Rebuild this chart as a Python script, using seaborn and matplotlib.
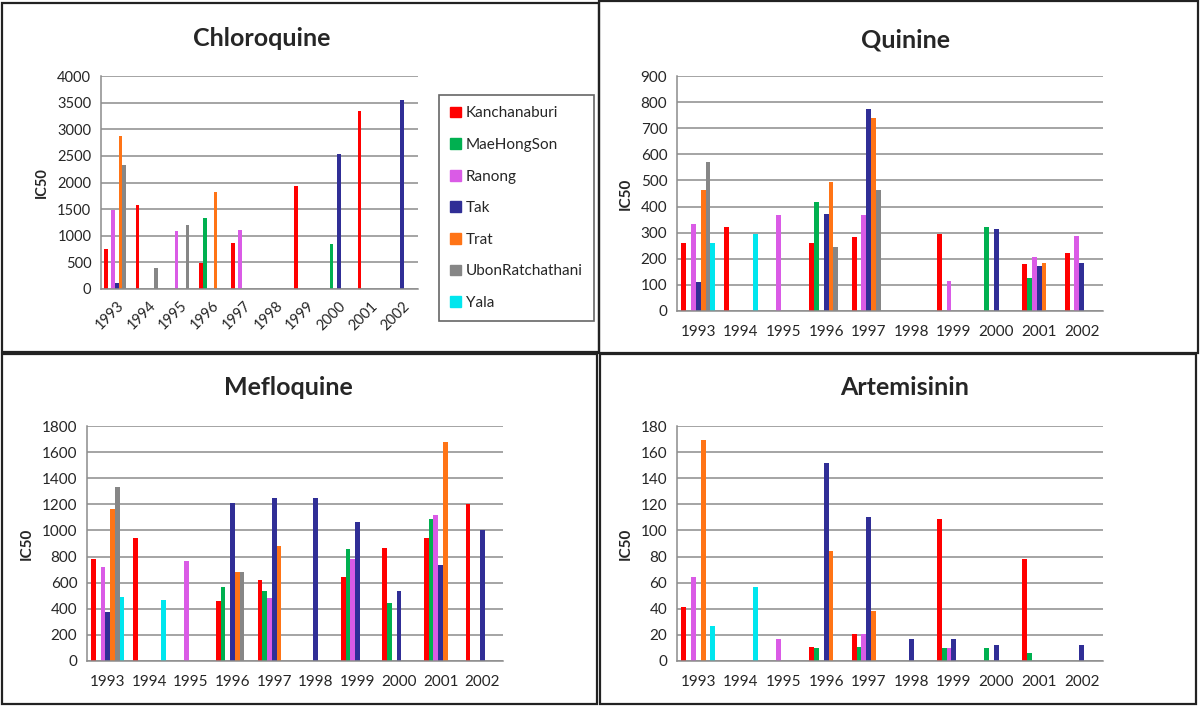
import matplotlib
matplotlib.use("Agg")
import matplotlib.pyplot as plt
import matplotlib.patches as mpatches
import numpy as np
import pandas as pd
import seaborn as sns

years = ['1993', '1994', '1995', '1996', '1997', '1998', '1999', '2000', '2001', '2002']
sites = ['Kanchanaburi', 'MaeHongSon', 'Ranong', 'Tak', 'Trat', 'UbonRatchathani', 'Yala']
colors = ['#FF0000', '#00B050', '#DA5BE6', '#302E96', '#FF7416', '#868686', '#00E6EE']

N = None
# values per site, one per year (None = no bar)
chloroquine = {
    'Kanchanaburi':    [750, 1570, N, 490, 870, N, 1930, N, 3350, N],
    'MaeHongSon':      [N, N, N, 1340, N, N, N, 850, N, N],
    'Ranong':          [1480, N, 1080, N, 1110, N, N, N, N, N],
    'Tak':             [120, N, N, N, N, N, N, 2530, N, 3540],
    'Trat':            [2880, N, N, 1820, N, N, N, N, N, N],
    'UbonRatchathani': [2330, 390, 1210, N, N, N, N, N, N, N],
    'Yala':            [N, N, N, N, N, N, N, N, N, N],
}
quinine = {
    'Kanchanaburi':    [262, 320, N, 262, 285, N, 294, N, 180, 223],
    'MaeHongSon':      [N, N, N, 417, N, N, N, 320, 127, N],
    'Ranong':          [333, N, 367, N, 368, N, 115, N, 208, 288],
    'Tak':             [110, N, N, 372, 773, N, N, 315, 172, 185],
    'Trat':            [465, N, N, 493, 740, N, N, N, 185, N],
    'UbonRatchathani': [572, N, N, 245, 465, N, N, N, N, N],
    'Yala':            [260, 293, N, N, N, N, N, N, N, N],
}
mefloquine = {
    'Kanchanaburi':    [780, 945, N, 460, 620, N, 645, 865, 940, 1200],
    'MaeHongSon':      [N, N, N, 565, 535, N, 855, 445, 1085, N],
    'Ranong':          [720, N, 765, N, 480, N, 780, N, 1115, N],
    'Tak':             [375, N, N, 1210, 1250, 1250, 1065, 540, 735, 1005],
    'Trat':            [1165, N, N, 680, 880, N, N, N, 1680, N],
    'UbonRatchathani': [1335, N, N, 680, N, N, N, N, N, N],
    'Yala':            [490, 465, N, N, N, N, N, N, N, N],
}
artemisinin = {
    'Kanchanaburi':    [41, N, N, 11, 21, N, 109, N, 78, N],
    'MaeHongSon':      [N, N, N, 10, 10.5, N, 10, 10, 6.5, N],
    'Ranong':          [64, N, 17, N, 21, N, 10, N, N, N],
    'Tak':             [N, N, N, 152, 110, 17, 16.5, 12, N, 12],
    'Trat':            [169, N, N, 84, 38, N, N, N, N, N],
    'UbonRatchathani': [N, N, N, N, N, N, N, N, N, N],
    'Yala':            [27, 57, N, N, N, N, N, N, N, N],
}

sns.set_style("white")
plt.rcParams['font.family'] = ['Lato', 'DejaVu Sans']

W, H = 1200, 711
fig = plt.figure(figsize=(12, 7.11), dpi=100)


def to_frame(d):
    rows = []
    for s in sites:
        for y, v in zip(years, d[s]):
            if v is not None:
                rows.append((y, s, v))
    return pd.DataFrame(rows, columns=['year', 'site', 'ic50'])


def px(l, t, r, b):
    return [l / W, 1 - b / H, (r - l) / W, (b - t) / H]


def panel(data, box, title, title_xy, ymax, step, fs, rotate=False):
    ax = fig.add_axes(px(*box))
    df = to_frame(data)
    sns.barplot(data=df, x='year', y='ic50', hue='site', order=years, hue_order=sites,
                palette=dict(zip(sites, colors)), saturation=1, width=0.8,
                errorbar=None, legend=False, linewidth=0, ax=ax)
    ax.set_xlim(-0.5, 9.5)
    ax.set_ylim(0, ymax)
    ax.set_yticks(np.arange(0, ymax + 1, step))
    ax.yaxis.grid(True, color='#8c8c8c', lw=1.1)
    ax.set_axisbelow(True)
    for s in ['top', 'right']:
        ax.spines[s].set_visible(False)
    for s in ['left', 'bottom']:
        ax.spines[s].set_color('#8c8c8c')
        ax.spines[s].set_linewidth(1.1)
    ax.set_xticks(np.arange(-0.5, 10, 1), minor=True)
    ax.tick_params(axis='x', which='minor', length=4, width=1.1, color='#8c8c8c')
    ax.tick_params(axis='y', which='major', length=3, width=1.1, color='#8c8c8c',
                   labelsize=fs, pad=4)
    ax.set_xlabel('')
    ax.set_ylabel('IC50', fontsize=fs, fontweight='bold', labelpad=6)
    if rotate:
        ax.tick_params(axis='x', which='major', length=0, labelsize=fs, pad=7)
        plt.setp(ax.get_xticklabels(), rotation=45, ha='right', rotation_mode='anchor')
    else:
        ax.tick_params(axis='x', which='major', length=0, labelsize=fs, pad=10)
    fig.text(title_xy[0] / W, 1 - title_xy[1] / H, title, ha='center', va='center',
             fontsize=18, fontweight='bold')
    return ax


ax1 = panel(chloroquine, (101, 76, 418, 289), 'Chloroquine', (262, 38), 4000, 500, 10.5, rotate=True)
panel(quinine, (677, 76, 1103, 311), 'Quinine', (905, 40), 900, 100, 11)
panel(mefloquine, (87, 426, 503, 661), 'Mefloquine', (288, 388), 1800, 200, 11)
panel(artemisinin, (677, 426, 1103, 661), 'Artemisinin', (905, 388), 180, 20, 11)

handles = [mpatches.Patch(color=c, label=s) for s, c in zip(sites, colors)]
leg = fig.legend(handles=handles, loc='upper left', bbox_to_anchor=(439 / W, 1 - 95 / H),
                 fontsize=11, frameon=True, fancybox=False, handlelength=0.7,
                 handleheight=0.7, handletextpad=0.3, labelspacing=1.15,
                 borderpad=0.75, borderaxespad=0)
leg.get_frame().set_edgecolor('#404040')
leg.get_frame().set_linewidth(1.2)

# panel borders
for l, t, r, b in [(2, 3, 599, 352), (599, 1, 1198, 353), (2, 354, 597, 704), (600, 354, 1196, 704)]:
    fig.add_artist(mpatches.Rectangle((l / W, 1 - b / H), (r - l) / W, (b - t) / H,
                                      transform=fig.transFigure, fill=False,
                                      lw=1.6, edgecolor='#222222'))

fig.savefig('out.png', dpi=100, facecolor='white')
